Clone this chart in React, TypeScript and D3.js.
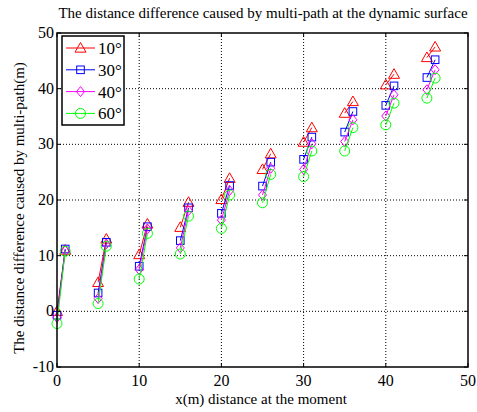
import React from 'react';
import * as d3 from 'd3';

// sample positions (m); each pair of samples is drawn as its own segment
const xValues = [0, 1, 5, 6, 10, 11, 15, 16, 20, 21, 25, 26, 30, 31, 35, 36, 40, 41, 45, 46];

const deg10 = [0, 11.0, 5.2, 13.0, 10.2, 15.7, 15.1, 19.6, 20.1, 23.9, 25.5, 28.3, 30.4, 33.0, 35.6, 37.7, 40.7, 42.6, 45.6, 47.5];
const deg30 = [-0.7, 11.2, 3.3, 12.4, 8.1, 15.2, 12.7, 18.6, 17.6, 22.6, 22.5, 26.8, 27.3, 31.3, 32.2, 35.9, 37.0, 40.5, 42.0, 45.2];
const deg40 = [-1.1, 10.9, 2.3, 12.1, 7.5, 14.8, 11.4, 18.1, 16.4, 21.7, 20.9, 25.7, 25.5, 30.1, 30.5, 34.4, 35.1, 38.9, 39.8, 43.4];
const deg60 = [-2.2, 10.8, 1.4, 11.7, 5.8, 14.0, 10.3, 17.1, 14.9, 20.9, 19.5, 24.6, 24.2, 28.8, 28.8, 33.0, 33.5, 37.4, 38.3, 41.9];

const seriesNames = ['10°', '30°', '40°', '60°'];
const xTicks = [0, 10, 20, 30, 40, 50];
const yTicks = [-10, 0, 10, 20, 30, 40, 50];

const colors = ['#ff0000', '#0000ff', '#ff00ff', '#00ff00'];
const markers = ['triangle', 'square', 'diamond', 'circle'];

const W = 477;
const H = 412;
const margin = { top: 33, right: 9, bottom: 45, left: 57 };

const font = '"Liberation Serif", "Times New Roman", serif';

function Marker({ kind, x, y, color }: { kind: string; x: number; y: number; color: string }) {
  const common = { fill: 'none', stroke: color, strokeWidth: 1 };
  if (kind === 'triangle') {
    const s = 5.5;
    return <path d={`M${x},${y - s}L${x + s},${y + s * 0.75}L${x - s},${y + s * 0.75}Z`} {...common} />;
  }
  if (kind === 'square') {
    return <rect x={x - 3.8} y={y - 3.8} width={7.6} height={7.6} {...common} />;
  }
  if (kind === 'diamond') {
    const s = 5;
    return <path d={`M${x},${y - s}L${x + s * 0.8},${y}L${x},${y + s}L${x - s * 0.8},${y}Z`} {...common} />;
  }
  return <circle cx={x} cy={y} r={5} {...common} />;
}

export default function App() {
  const series = [deg10, deg30, deg40, deg60];
  const x = d3.scaleLinear().domain([0, 50]).range([margin.left, W - margin.right]);
  const y = d3.scaleLinear().domain([-10, 50]).range([H - margin.bottom, margin.top]);
  const x0 = x(0), x1 = x(50), y0 = y(-10), y1 = y(50);

  const pairs = d3.range(0, xValues.length, 2).map(i => [i, i + 1]);

  return (
    <svg width={W} height={H} style={{ position: 'absolute', left: 0, top: 0, background: '#fff' }}>
      <rect x={0} y={0} width={W} height={H} fill="#fff" />
      {/* grid */}
      {xTicks.slice(1, -1).map(t => (
        <line key={'gx' + t} x1={x(t)} x2={x(t)} y1={y0} y2={y1} stroke="#000" strokeWidth={1} strokeDasharray="1,2" />
      ))}
      {yTicks.slice(1, -1).map(t => (
        <line key={'gy' + t} x1={x0} x2={x1} y1={y(t)} y2={y(t)} stroke="#000" strokeWidth={1} strokeDasharray="1,2" />
      ))}

      {/* series */}
      {series.map((vals, si) => {
        const line = d3.line<number>()
          .x(i => x(xValues[i]))
          .y(i => y(vals[i]));
        return (
          <g key={si}>
            {pairs.map((p, pi) => (
              <path key={pi} d={line(p) || ''} fill="none" stroke={colors[si]} strokeWidth={1} />
            ))}
            {vals.map((v, i) => (
              <Marker key={i} kind={markers[si]} x={x(xValues[i])} y={y(v)} color={colors[si]} />
            ))}
          </g>
        );
      })}

      {/* axes box and ticks */}
      <rect x={x0} y={y1} width={x1 - x0} height={y0 - y1} fill="none" stroke="#000" strokeWidth={1.5} />
      {xTicks.map(t => (
        <g key={'tx' + t}>
          <line x1={x(t)} x2={x(t)} y1={y0} y2={y0 - 4} stroke="#000" />
          <line x1={x(t)} x2={x(t)} y1={y1} y2={y1 + 4} stroke="#000" />
          <text x={x(t)} y={y0 + 19} textAnchor="middle" fontFamily={font} fontSize={16}>{t}</text>
        </g>
      ))}
      {yTicks.map(t => (
        <g key={'ty' + t}>
          <line x1={x0} x2={x0 + 4} y1={y(t)} y2={y(t)} stroke="#000" />
          <line x1={x1} x2={x1 - 4} y1={y(t)} y2={y(t)} stroke="#000" />
          <text x={x0 - 3} y={y(t) + 5} textAnchor="end" fontFamily={font} fontSize={16}>{t}</text>
        </g>
      ))}

      {/* legend */}
      <g>
        <rect x={62} y={36} width={62} height={89} fill="#fff" stroke="#000" strokeWidth={1.5} />
        {seriesNames.map((name, i) => {
          const ly = 48 + i * 21.8;
          return (
            <g key={name}>
              <line x1={66} x2={95} y1={ly} y2={ly} stroke={colors[i]} strokeWidth={1} />
              <Marker kind={markers[i]} x={80.5} y={ly} color={colors[i]} />
              <text x={98} y={ly + 6} fontFamily={font} fontSize={17}>{name}</text>
            </g>
          );
        })}
      </g>

      {/* labels */}
      <text x={263} y={18} textAnchor="middle" fontFamily={font} fontSize={15}>
        The distance difference caused by multi-path at the dynamic surface
      </text>
      <text x={261} y={404} textAnchor="middle" fontFamily={font} fontSize={15}>
        x(m) distance at the moment
      </text>
      <text
        transform={`translate(24,${(y0 + y1) / 2 + 8}) rotate(-90)`}
        textAnchor="middle"
        fontFamily={font}
        fontSize={15}
      >
        The distance difference caused by multi-path(m)
      </text>
    </svg>
  );
}
